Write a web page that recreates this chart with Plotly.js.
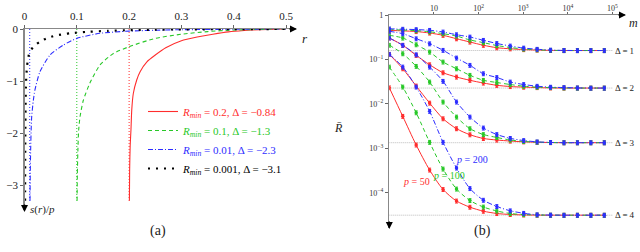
<!DOCTYPE html>
<html>
<head>
<meta charset="utf-8">
<script src="https://cdn.plot.ly/plotly-3.0.1.min.js"></script>
<style>html,body{margin:0;padding:0;background:#fff;}#plot{width:640px;height:252px;}</style>
</head>
<body>
<div id="plot"></div>
<script>
// ---------- Panel (a): s(r)/p versus r ----------
const rRed   = [0.2005, 0.201, 0.202, 0.2035, 0.205, 0.208, 0.2145, 0.221, 0.234, 0.25, 0.27, 0.3, 0.33, 0.36, 0.39, 0.42, 0.45, 0.48, 0.5];
const sRed   = [-3.3, -2.7, -2.25, -1.94, -1.56, -1.24, -0.98, -0.82, -0.63, -0.5, -0.36, -0.225, -0.155, -0.10, -0.055, -0.03, -0.012, -0.004, 0];
const rGreen = [0.1005, 0.101, 0.102, 0.1035, 0.1061, 0.1125, 0.125, 0.1444, 0.17, 0.2, 0.25, 0.3, 0.35, 0.4, 0.45, 0.5];
const sGreen = [-3.3, -2.8, -2.35, -1.95, -1.69, -1.37, -1.04, -0.69, -0.47, -0.34, -0.18, -0.10, -0.05, -0.02, -0.008, 0];
const rBlue  = [0.0105, 0.011, 0.0118, 0.0127, 0.0137, 0.0169, 0.02, 0.0296, 0.0488, 0.074, 0.1, 0.144, 0.2, 0.29, 0.4, 0.5];
const sBlue  = [-3.3, -2.8, -2.3, -1.95, -1.69, -1.37, -1.17, -0.82, -0.5, -0.31, -0.18, -0.083, -0.04, -0.015, -0.005, 0];
const rBlack = [0.0011, 0.0013, 0.0016, 0.002, 0.003, 0.005, 0.009, 0.017, 0.03, 0.042, 0.058, 0.074, 0.09, 0.12, 0.16, 0.2, 0.25, 0.3, 0.35, 0.4, 0.45, 0.5];
const sBlack = [-3.3, -2.6, -2.0, -1.5, -1.0, -0.7, -0.47, -0.34, -0.24, -0.18, -0.13, -0.10, -0.08, -0.055, -0.035, -0.022, -0.013, -0.008, -0.005, -0.003, -0.001, 0];
const rMinValues = [0.2, 0.1, 0.01];
const sBottom = -3.3;
const legendNames = [
  '<i>R</i><sub><i>min</i></sub> = 0.2, Δ = −0.84',
  '<i>R</i><sub><i>min</i></sub> = 0.1, Δ = −1.3',
  '<i>R</i><sub><i>min</i></sub> = 0.01, Δ = −2.3',
  '<i>R</i><sub><i>min</i></sub> = 0.001, Δ = −3.1'
];
const xTicksA = [0, 0.1, 0.2, 0.3, 0.4, 0.5];
const xTickTextA = ['0', '0.1', '0.2', '0.3', '0.4', '0.5'];
const yTicksA = [0, -1, -2, -3];
const yTickTextA = ['0', '−1', '−2', '−3'];

// ---------- Panel (b): R-bar versus m ----------
const mVals = [1, 2, 4, 8, 16, 32, 64, 128, 256, 512, 1024, 2048, 4096, 8192, 16384, 32768, 65536];
const d1p50  = [0.45, 0.44, 0.425, 0.394, 0.35, 0.293, 0.247, 0.209, 0.184, 0.174, 0.167, 0.163, 0.16, 0.159, 0.159, 0.159, 0.159];
const d1p100 = [0.47, 0.46, 0.445, 0.42, 0.38, 0.337, 0.275, 0.239, 0.206, 0.186, 0.172, 0.165, 0.161, 0.159, 0.159, 0.159, 0.159];
const d1p200 = [0.49, 0.48, 0.47, 0.453, 0.415, 0.361, 0.32, 0.27, 0.229, 0.201, 0.181, 0.17, 0.163, 0.16, 0.159, 0.159, 0.159];
const d2p50  = [0.304, 0.209, 0.124, 0.0764, 0.0505, 0.0404, 0.0341, 0.0296, 0.0263, 0.0247, 0.0239, 0.0234, 0.023, 0.0228, 0.0228, 0.0228, 0.0228];
const d2p100 = [0.35, 0.304, 0.215, 0.147, 0.0879, 0.0621, 0.0442, 0.0341, 0.0304, 0.0274, 0.0251, 0.0239, 0.0234, 0.023, 0.0228, 0.0228, 0.0228];
const d2p200 = [0.43, 0.38, 0.293, 0.226, 0.161, 0.108, 0.0741, 0.048, 0.0394, 0.0312, 0.0274, 0.0251, 0.0239, 0.0234, 0.023, 0.0228, 0.0228];
const d3p50  = [0.131, 0.0621, 0.0254, 0.0105, 0.00467, 0.00279, 0.00204, 0.00168, 0.00155, 0.00147, 0.00141, 0.00138, 0.00136, 0.00135, 0.00135, 0.00135, 0.00135];
const d3p100 = [0.209, 0.135, 0.0703, 0.0312, 0.0111, 0.0051, 0.00279, 0.00206, 0.00177, 0.00155, 0.00144, 0.00139, 0.00136, 0.00135, 0.00135, 0.00135, 0.00135];
const d3p200 = [0.304, 0.209, 0.128, 0.0678, 0.0324, 0.0111, 0.0051, 0.00289, 0.00206, 0.00169, 0.00151, 0.00141, 0.00137, 0.00135, 0.00135, 0.00135, 0.00135];
const d4p50  = [0.0232, 0.00529, 0.0012, 3.29e-4, 1.2e-4, 6.61e-5, 4.8e-5, 3.9e-5, 3.46e-5, 3.29e-5, 3.21e-5, 3.18e-5, 3.17e-5, 3.17e-5, 3.17e-5, 3.17e-5, 3.17e-5];
const d4p100 = [0.0678, 0.0241, 0.00637, 0.00138, 3.46e-4, 1.23e-4, 6.78e-5, 4.84e-5, 3.94e-5, 3.46e-5, 3.27e-5, 3.2e-5, 3.18e-5, 3.17e-5, 3.17e-5, 3.17e-5, 3.17e-5];
const d4p200 = [0.131, 0.0678, 0.0241, 0.00685, 0.00138, 3.65e-4, 1.26e-4, 6.89e-5, 4.98e-5, 3.98e-5, 3.5e-5, 3.24e-5, 3.19e-5, 3.17e-5, 3.17e-5, 3.17e-5, 3.17e-5];
const asymptotes = [0.159, 0.0228, 0.00135, 3.17e-5];
const deltaLabels = ['Δ\u2009=\u20091', 'Δ\u2009=\u20092', 'Δ\u2009=\u20093', 'Δ\u2009=\u20094'];
const pLabels = ['<i>p</i> = 50', '<i>p</i> = 100', '<i>p</i> = 200'];
const xTicksB = [10, 100, 1000, 10000, 100000];
const xTickTextB = ['10', '10<sup>2</sup>', '10<sup>3</sup>', '10<sup>4</sup>', '10<sup>5</sup>'];
const yTicksB = [1, 0.1, 0.01, 0.001, 0.0001];
const yTickTextB = ['1', '10<sup>−1</sup>', '10<sup>−2</sup>', '10<sup>−3</sup>', '10<sup>−4</sup>'];

// ---------- styles ----------
const RED = 'rgb(255,45,45)', GREEN = 'rgb(40,200,40)', BLUE = 'rgb(45,45,255)', BLACK = '#000';
const SERIF = 'Liberation Serif, DejaVu Serif, serif';
const W = 640, H = 252;
const px = v => v / W, py = v => 1 - v / H;
const DASH = '4px,3px', DASHDOT = '5px,2px,1px,2px';

const traces = [];
const vColors = [RED, GREEN, BLUE];
rMinValues.forEach((r, i) => {
  traces.push({x: [r, r], y: [0, sBottom], mode: 'lines', xaxis: 'x', yaxis: 'y', showlegend: false,
    line: {color: vColors[i], width: 1, dash: '1px,2px'}, hoverinfo: 'skip'});
});
const curvesA = [
  {x: rRed, y: sRed, c: RED, d: 'solid', w: 1.1},
  {x: rGreen, y: sGreen, c: GREEN, d: DASH, w: 1.1},
  {x: rBlue, y: sBlue, c: BLUE, d: DASHDOT, w: 1.1},
  {x: rBlack, y: sBlack, c: BLACK, d: '2px,6px', w: 2.2}
];
curvesA.forEach((cv, i) => {
  traces.push({x: cv.x, y: cv.y, mode: 'lines', xaxis: 'x', yaxis: 'y', line: {color: cv.c, width: cv.w, dash: cv.d, shape: 'spline', smoothing: 0.6},
    name: '<span style="color:' + cv.c + '">' + legendNames[i] + '</span>', showlegend: true});
});

asymptotes.forEach(a => {
  traces.push({x: [1, 100000], y: [a, a], mode: 'lines', xaxis: 'x2', yaxis: 'y2', showlegend: false,
    line: {color: '#bbb', width: 1, dash: '1px,1px'}, hoverinfo: 'skip'});
});
const groupsB = [
  [d1p50, d1p100, d1p200], [d2p50, d2p100, d2p200], [d3p50, d3p100, d3p200], [d4p50, d4p100, d4p200]
];
const pStyles = [{c: RED, d: 'solid'}, {c: GREEN, d: DASH}, {c: BLUE, d: DASHDOT}];
[0, 1, 2].forEach(j => {
  groupsB.forEach(g => {
    traces.push({x: mVals, y: g[j], mode: 'lines+markers', xaxis: 'x2', yaxis: 'y2', showlegend: false,
      line: {color: pStyles[j].c, width: 1, dash: pStyles[j].d, shape: 'spline', smoothing: 0.8},
      marker: {color: pStyles[j].c, size: 3.5},
      error_y: {type: 'percent', value: 10, color: pStyles[j].c, thickness: 1, width: 1.5}});
  });
});

const annotations = [];
const arrow = (x, y, ax, ay) => ({xref: 'paper', yref: 'paper', x: px(x), y: py(y), ax: ax, ay: ay, text: '',
  showarrow: true, arrowhead: 2, arrowsize: 1, arrowwidth: 1.4, arrowcolor: '#000', standoff: 0});
annotations.push(arrow(297, 29, -9, 0));
annotations.push(arrow(24.5, 212, 0, -9));
annotations.push(arrow(626, 15, -9, 0));
annotations.push(arrow(389.3, 229, 0, -9));
const txt = (x, y, t, size, opts) => Object.assign({xref: 'paper', yref: 'paper', x: px(x), y: py(y), text: t, showarrow: false,
  font: {family: SERIF, size: size, color: '#222'}}, opts || {});
annotations.push(txt(300, 29, '<i>r</i>', 13, {xanchor: 'left'}));
annotations.push(txt(28, 218, '<i>s</i>(<i>r</i>)/<i>p</i>', 11));
annotations.push(txt(148, 241, '(a)', 14));
annotations.push(txt(493, 241, '(b)', 14));
annotations.push(txt(627, 14, '<i>m</i>', 12, {xanchor: 'left'}));
annotations.push(txt(338, 128, '<i>R̄</i>', 12));
asymptotes.forEach((a, i) => {
  annotations.push({xref: 'paper', yref: 'y2', x: px(613), y: Math.log10(a), text: deltaLabels[i], showarrow: false,
    xanchor: 'left', font: {family: SERIF, size: 9, color: '#222'}});
});
const pPos = [[0.6, -3.753], [1.34, -3.596], [1.85, -3.258]];
pLabels.forEach((t, i) => {
  annotations.push({xref: 'x2', yref: 'y2', x: pPos[i][0], y: pPos[i][1], text: t, showarrow: false,
    font: {family: SERIF, size: 10, color: pStyles[i].c}});
});

const axisCommon = {showgrid: false, zeroline: false, showline: true, linecolor: '#888', linewidth: 1.4,
  ticks: 'outside', ticklen: 3, tickcolor: '#666', automargin: false};

const layout = {
  width: W, height: H, margin: {l: 0, r: 0, t: 0, b: 0}, paper_bgcolor: '#fff', plot_bgcolor: 'rgba(0,0,0,0)',
  font: {family: SERIF},
  showlegend: true,
  legend: {x: px(143), y: py(97), xanchor: 'left', yanchor: 'top', bgcolor: 'rgba(0,0,0,0)', font: {family: SERIF, size: 11}, tracegroupgap: 0},
  xaxis: Object.assign({}, axisCommon, {domain: [px(24.5), px(296)], range: [0, 0.519], side: 'top', anchor: 'y',
    tickvals: xTicksA, ticktext: xTickTextA, tickfont: {family: SERIF, size: 11, color: '#222'}}),
  yaxis: Object.assign({}, axisCommon, {domain: [py(210), py(29)], range: [-3.48, 0], anchor: 'x',
    tickvals: yTicksA, ticktext: yTickTextA, tickfont: {family: SERIF, size: 11, color: '#222'}}),
  xaxis2: Object.assign({}, axisCommon, {type: 'log', domain: [px(389.3), px(625)], range: [0, 5.28], side: 'top', anchor: 'y2',
    ticklabelstandoff: -3, ticklen: 2,
    tickvals: xTicksB, ticktext: xTickTextB, tickfont: {family: SERIF, size: 8, color: '#333'}}),
  yaxis2: Object.assign({}, axisCommon, {type: 'log', domain: [py(228), py(15)], range: [-4.787, 0], anchor: 'x2',
    tickvals: yTicksB, ticktext: yTickTextB, tickfont: {family: SERIF, size: 8, color: '#333'}}),
  annotations: annotations
};

Plotly.newPlot('plot', traces, layout, {staticPlot: true, displayModeBar: false});
</script>
</body>
</html>
